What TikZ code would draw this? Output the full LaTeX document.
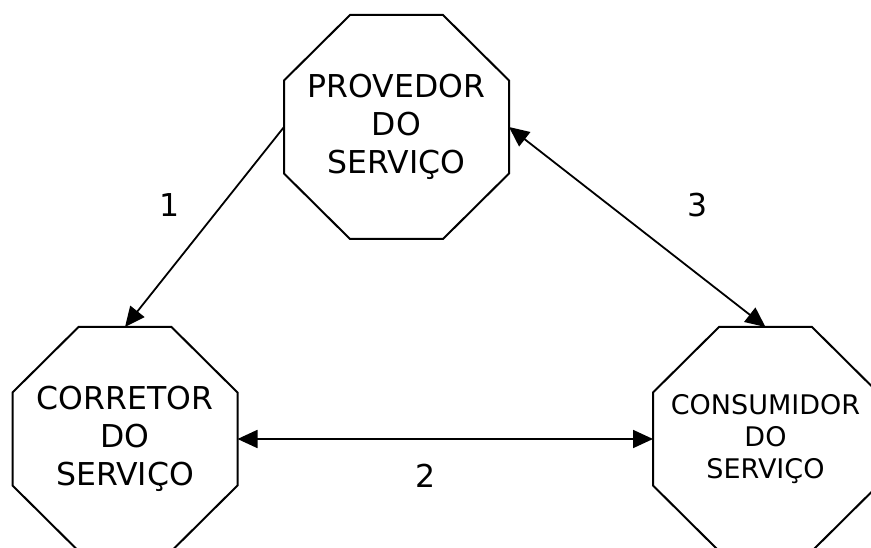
\documentclass[tikz,border=0pt]{standalone}
\usepackage{fontspec}
\setmainfont{DejaVu Sans}
\usetikzlibrary{arrows.meta}
% regular octagon drawn around a named node (225pt across the flats)
\newcommand\octagonround[1]{%
  \draw[line width=2pt,line join=miter]
    ([xshift=-46.5pt,yshift=112pt]#1.center) -- ([xshift=46.5pt,yshift=112pt]#1.center)
    -- ([xshift=112.5pt,yshift=46.5pt]#1.center) -- ([xshift=112.5pt,yshift=-46.5pt]#1.center)
    -- ([xshift=46.5pt,yshift=-112pt]#1.center) -- ([xshift=-46.5pt,yshift=-112pt]#1.center)
    -- ([xshift=-112.5pt,yshift=-46.5pt]#1.center) -- ([xshift=-112.5pt,yshift=46.5pt]#1.center)
    -- cycle;}
\begin{document}
\begin{tikzpicture}[x=1pt,y=-1pt,
  role/.style={rectangle,minimum width=225pt,minimum height=224pt,
    inner sep=0pt,outer sep=0pt,align=center,
    font=\fontsize{31.5}{38}\selectfont},
  smallrole/.style={role,font=\fontsize{27}{32}\selectfont},
  tip/.style={Triangle[length=20pt,width=18pt]},
  flow/.style={line width=1.8pt,-{Triangle[length=20pt,width=18pt]}},
  biflow/.style={line width=1.8pt,{Triangle[length=20pt,width=18pt]}-{Triangle[length=20pt,width=18pt]}},
  num/.style={font=\fontsize{31.5}{38}\selectfont,inner sep=0pt}]
  \useasboundingbox (0,0) rectangle (871,548);
  \node[role] (prov) at (396.5,127) {PROVEDOR\\DO\\SERVIÇO};
  \node[role] (corr) at (125,439) {CORRETOR\\DO\\SERVIÇO};
  \node[smallrole] (cons) at (765.5,439) {CONSUMIDOR\\DO\\SERVIÇO};
  \octagonround{prov}
  \octagonround{corr}
  \octagonround{cons}
  \draw[flow] (prov.west) -- (corr.north);
  \draw[biflow] (corr.east) -- (cons.west);
  \draw[biflow] (prov.east) -- (cons.north);
  \node[num] (n1) at (170,205) {1};
  \node[num] (n2) at (426,476) {2};
  \node[num] (n3) at (698,205) {3};
\end{tikzpicture}
\end{document}
